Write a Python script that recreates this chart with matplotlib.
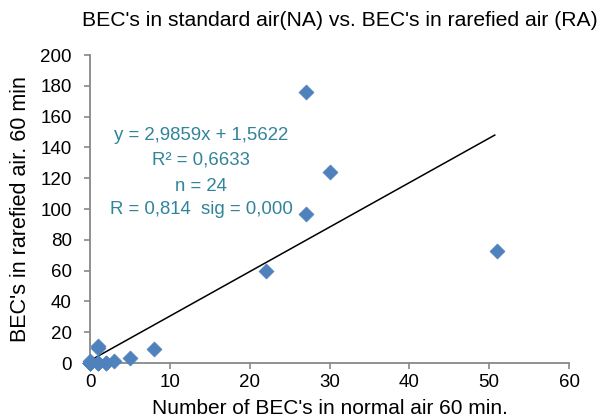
import matplotlib
matplotlib.use("Agg")
import matplotlib.pyplot as plt

plt.rcParams['font.family'] = ['Liberation Sans', 'DejaVu Sans']

na = [0, 0, 0, 0, 0, 0, 0, 0, 0, 1, 1, 1, 1, 1, 2, 2, 3, 5, 8, 22, 27, 27, 30, 51]
ra = [0, 0, 0, 0, 0, 0, 1, 0, 0, 0, 0, 11, 10, 0, 0, 0, 1, 3, 9, 60, 97, 176, 124, 73]
fit_x = [0, 50.7]
fit_y = [1.56, 148]

fig = plt.figure(figsize=(5.99, 4.18), dpi=100)
W, H = 599, 418
L, R, T, B = 90, 569, 55, 363
ax = fig.add_axes([L/W, 1-B/H, (R-L)/W, (B-T)/H])

ax.scatter(na, ra, marker='D', s=58, color='#4F81BD', edgecolors='#4F81BD',
           linewidths=0.5, zorder=3, clip_on=False)
ax.plot(fit_x, fit_y, color='black', lw=1.1, zorder=2)

ax.set_xlim(0, 60)
ax.set_ylim(0, 200)
ax.set_xticks(range(0, 61, 10))
ax.set_yticks(range(0, 201, 20))
for s in ['top', 'right']:
    ax.spines[s].set_visible(False)
for s in ['left', 'bottom']:
    ax.spines[s].set_color('#888888')
    ax.spines[s].set_linewidth(1.3)
ax.tick_params(axis='both', colors='#888888', labelcolor='black', labelsize=13.5,
               length=4, width=1.2, direction='out')
ax.tick_params(axis='x', pad=4)
ax.tick_params(axis='y', pad=9)

ax.set_xlabel("Number of BEC's in normal air 60 min.", fontsize=15, labelpad=6)
ax.set_ylabel("BEC's in rarefied air. 60 min", fontsize=15.5, labelpad=7)
fig.text(340/W, 1-20/H, "BEC's in standard air(NA) vs. BEC's in rarefied air (RA)",
         ha='center', va='center', fontsize=15.2)

tc = '#31849B'
ax.text(13.9, 148, "y = 2,9859x + 1,5622", color=tc, fontsize=13.4, ha='center', va='center')
ax.text(13.9, 131.8, "R² = 0,6633", color=tc, fontsize=13.4, ha='center', va='center')
ax.text(13.9, 114.3, "n = 24", color=tc, fontsize=13.4, ha='center', va='center')
ax.text(13.9, 99.4, "R = 0,814  sig = 0,000", color=tc, fontsize=13.4, ha='center', va='center')

fig.savefig("out.png", dpi=100)
